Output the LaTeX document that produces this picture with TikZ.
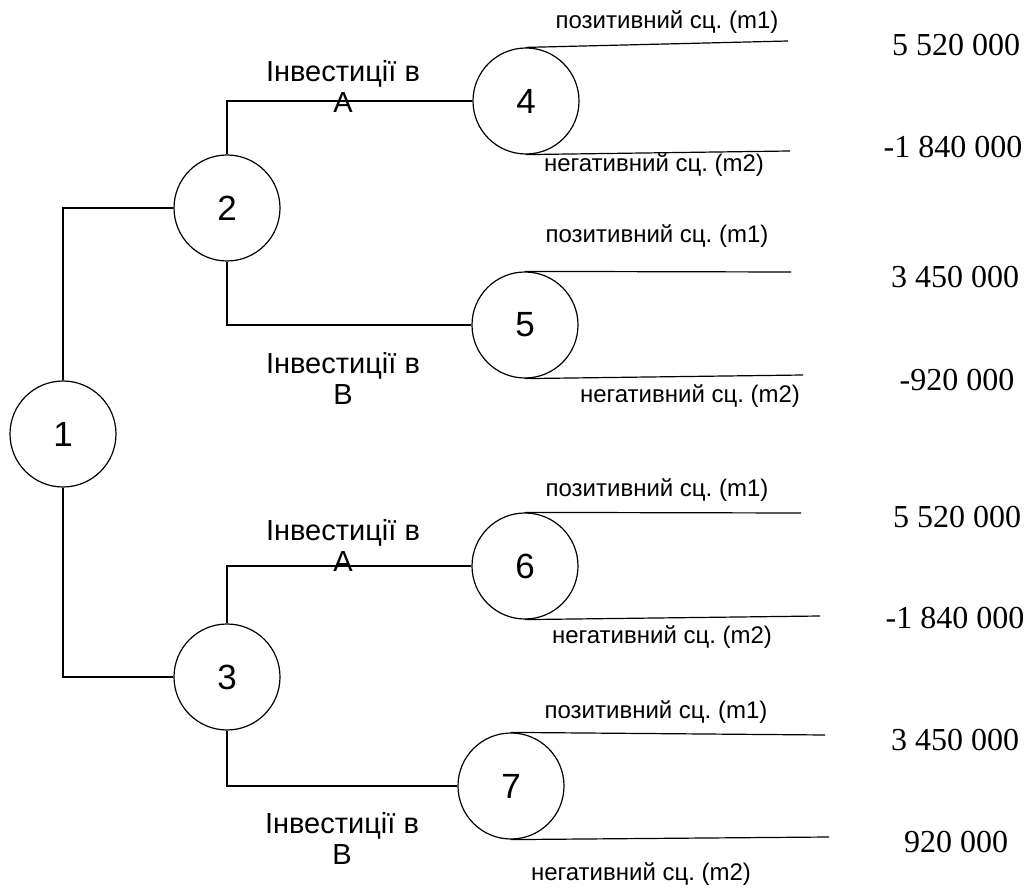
\documentclass[tikz,border=0pt]{standalone}
\usepackage{fontspec}
\setmainfont{Liberation Serif}
\newfontfamily\labelfont{Liberation Sans}
\usetikzlibrary{positioning,calc}
\frenchspacing
\tikzset{
  dnode/.style={
    draw, circle, minimum size=106pt, inner sep=0pt, line width=1.2pt,
    font=\labelfont\fontsize{35}{35}\selectfont
  },
  branch/.style={line width=1.2pt, black},
  invlabel/.style={font=\labelfont\fontsize{29}{31}\selectfont, align=center, inner sep=0pt},
  sclabel/.style={font=\labelfont\fontsize{24}{26}\selectfont, inner sep=0pt},
  valnum/.style={font=\fontsize{32}{34}\selectfont, inner sep=0pt}
}
\begin{document}
\begin{tikzpicture}[x=1pt,y=-1pt]
  \useasboundingbox (0,0) rectangle (1029,890);
  % decision and chance nodes
  \node[dnode] (n1) at (63,434) {1};
  \node[dnode] (n2) at (227,208) {2};
  \node[dnode] (n3) at (227,677) {3};
  \node[dnode] (n4) at (526,101) {4};
  \node[dnode] (n5) at (525,325) {5};
  \node[dnode] (n6) at (525,566) {6};
  \node[dnode] (n7) at (511,786) {7};
  % tree branches
  \draw[branch] (n1.north) |- (n2.west);
  \draw[branch] (n1.south) |- (n3.west);
  \draw[branch] (n2.north) |- (n4.west);
  \draw[branch] (n2.south) |- (n5.west);
  \draw[branch] (n3.north) |- (n6.west);
  \draw[branch] (n3.south) |- (n7.west);
  % outcome line ends
  \coordinate (e4a) at (788,41);  \coordinate (e4b) at (790,151);
  \coordinate (e5a) at (791,272); \coordinate (e5b) at (803,375);
  \coordinate (e6a) at (801,513); \coordinate (e6b) at (820,616);
  \coordinate (e7a) at (825,735); \coordinate (e7b) at (829,837);
  \foreach \n in {4,5,6,7}{
    \draw[branch] (n\n.north) -- (e\n a);
    \draw[branch] (n\n.south) -- (e\n b);
  }
  % branch labels
  \node[invlabel] (ia1) at (343,86) {Інвестиції в\\A};
  \node[invlabel] (ib1) at (343,378) {Інвестиції в\\B};
  \node[invlabel] (ia2) at (343,545) {Інвестиції в\\A};
  \node[invlabel] (ib2) at (342,838) {Інвестиції в\\B};
  \node[sclabel] (p4) at (667,22) {позитивний сц. (m1)};
  \node[sclabel] (m4) at (654,165) {негативний сц. (m2)};
  \node[sclabel] (p5) at (657,236) {позитивний сц. (m1)};
  \node[sclabel] (m5) at (690,396) {негативний сц. (m2)};
  \node[sclabel] (p6) at (657,490) {позитивний сц. (m1)};
  \node[sclabel] (m6) at (662,637) {негативний сц. (m2)};
  \node[sclabel] (p7) at (656,712) {позитивний сц. (m1)};
  \node[sclabel] (m7) at (641,874) {негативний сц. (m2)};
  % payoffs
  \node[valnum] (v1) at (956,45) {5 520 000};
  \node[valnum] (v2) at (953,147) {-1 840 000};
  \node[valnum] (v3) at (955,277) {3 450 000};
  \node[valnum] (v4) at (957,380) {-920 000};
  \node[valnum] (v5) at (957,517) {5 520 000};
  \node[valnum] (v6) at (955,618) {-1 840 000};
  \node[valnum] (v7) at (955,740) {3 450 000};
  \node[valnum] (v8) at (956,842) {920 000};
\end{tikzpicture}
\end{document}
